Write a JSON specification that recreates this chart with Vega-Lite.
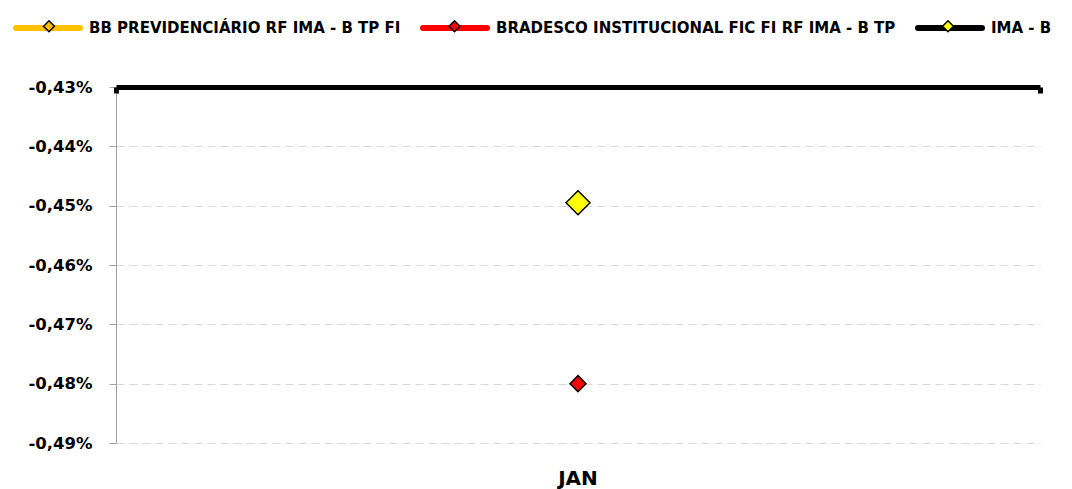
{
  "$schema": "https://vega.github.io/schema/vega-lite/v6.json",
  "width": 924,
  "height": 356,
  "autosize": "none",
  "padding": {"left": 116, "top": 87, "right": 32, "bottom": 46},
  "background": "white",
  "config": {
    "locale": {"number": {"decimal": ",", "thousands": ".", "grouping": [3], "currency": ["R$ ", ""], "minus": "-"}},
    "view": {"stroke": null},
    "font": "DejaVu Sans"
  },
  "data": {
    "values": [
      {"mes": "JAN", "serie": "BB PREVIDENCIÁRIO RF IMA - B TP FI", "valor": -0.004495},
      {"mes": "JAN", "serie": "BRADESCO INSTITUCIONAL FIC FI RF IMA - B TP", "valor": -0.0048},
      {"mes": "JAN", "serie": "IMA - B", "valor": -0.004495}
    ]
  },
  "encoding": {
    "y": {
      "field": "valor",
      "type": "quantitative",
      "scale": {"domain": [-0.0049, -0.0043], "nice": false, "zero": false},
      "axis": {
        "values": [-0.0049, -0.0048, -0.0047, -0.0046, -0.0045, -0.0044, -0.0043],
        "format": ".2%",
        "grid": true,
        "gridColor": "#d9d9d9",
        "gridDash": [8, 5],
        "gridWidth": 1,
        "domainColor": "#a0a0a0",
        "tickColor": "#a0a0a0",
        "tickSize": 7,
        "labelFont": "DejaVu Sans",
        "labelFontSize": 16.5,
        "labelFontWeight": "bold",
        "labelColor": "black",
        "labelPadding": 17,
        "title": null
      }
    }
  },
  "layer": [
    {
      "mark": {"type": "line"},
      "encoding": {
        "x": {
          "field": "mes",
          "type": "nominal",
          "scale": {"type": "band", "paddingInner": 0, "paddingOuter": 0},
          "axis": {
            "orient": "bottom",
            "domain": false,
            "ticks": false,
            "labelFont": "DejaVu Sans",
            "labelFontSize": 20,
            "labelFontWeight": "bold",
            "labelColor": "black",
            "labelPadding": 25,
            "labelAngle": 0,
            "title": null,
            "grid": false
          }
        },
        "stroke": {
          "field": "serie",
          "type": "nominal",
          "scale": {
            "domain": ["BB PREVIDENCIÁRIO RF IMA - B TP FI", "BRADESCO INSTITUCIONAL FIC FI RF IMA - B TP", "IMA - B"],
            "range": ["#FFC000", "#FF0000", "#000000"]
          },
          "legend": {
            "orient": "none",
            "legendX": -103,
            "legendY": -94,
            "direction": "horizontal",
            "columns": 3,
            "title": null,
            "symbolType": "M-1,0L1,0",
            "symbolSize": 4096,
            "symbolStrokeWidth": 6,
            "labelFont": "DejaVu Sans",
            "labelFontSize": 15,
            "labelFontWeight": "bold",
            "labelColor": "black",
            "labelLimit": 600,
            "labelOffset": 6,
            "columnPadding": 10,
            "zindex": 1,
            "encode": {"symbols": {"update": {"strokeCap": {"value": "round"}}}}
          }
        }
      }
    },
    {
      "mark": {"type": "point", "shape": "diamond", "filled": true, "stroke": "black", "strokeWidth": 1.5, "opacity": 1},
      "encoding": {
        "x": {
          "field": "mes",
          "type": "nominal",
          "scale": {"type": "band", "paddingInner": 0, "paddingOuter": 0},
          "axis": {
            "orient": "top",
            "labels": false,
            "domainColor": "black",
            "domainWidth": 5,
            "domainCap": "butt",
            "ticks": true,
            "tickBand": "extent",
            "tickColor": "black",
            "tickWidth": 5,
            "tickSize": -6,
            "title": null,
            "grid": false,
            "zindex": 2
          }
        },
        "fill": {
          "field": "serie",
          "type": "nominal",
          "scale": {
            "domain": ["IMA - B", "BRADESCO INSTITUCIONAL FIC FI RF IMA - B TP", "BB PREVIDENCIÁRIO RF IMA - B TP FI"],
            "range": ["#FFFF00", "#FF0000", "#FFC000"]
          },
          "legend": {
            "values": ["BB PREVIDENCIÁRIO RF IMA - B TP FI", "BRADESCO INSTITUCIONAL FIC FI RF IMA - B TP", "IMA - B"],
            "orient": "none",
            "legendX": -100,
            "legendY": -94,
            "direction": "horizontal",
            "columns": 3,
            "title": null,
            "symbolType": "M-1.07,0L-1.07,0M1.07,0L1.07,0M-0.17,0L0,-0.17L0.17,0L0,0.17Z",
            "symbolSize": 4096,
            "symbolStrokeWidth": 6,
            "symbolStrokeColor": "black",
            "symbolOpacity": 1,
            "labelFont": "DejaVu Sans",
            "labelFontSize": 15,
            "labelFontWeight": "bold",
            "labelColor": "black",
            "labelOpacity": 0,
            "labelLimit": 600,
            "labelOffset": 6,
            "columnPadding": 16.5,
            "zindex": 2,
            "encode": {"symbols": {"update": {"strokeWidth": {"value": 1.5}, "stroke": {"value": "black"}}}}
          }
        },
        "size": {
          "condition": {"test": "datum.serie === 'IMA - B'", "value": 576},
          "value": 256
        }
      }
    }
  ],
  "resolve": {"axis": {"x": "independent"}}
}
